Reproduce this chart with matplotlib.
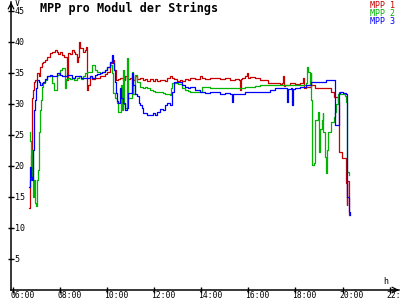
import matplotlib
matplotlib.use("Agg")
import matplotlib.pyplot as plt
import matplotlib.transforms as mtransforms

# MPP 1 (red)
t1 = [6.68, 6.72, 6.77, 6.81, 6.85, 6.89, 6.94, 7.02, 7.10, 7.15, 7.23, 7.28, 7.36, 7.45,
      7.57, 7.66, 7.79, 7.87, 7.91, 8.00, 8.09, 8.17, 8.26, 8.28, 8.34, 8.43, 8.51, 8.60,
      8.64, 8.72, 8.77, 8.81, 8.85, 8.89, 8.98, 9.06, 9.11, 9.15, 9.19, 9.28, 9.36, 9.49,
      9.57, 9.70, 9.79, 9.91, 10.00, 10.13, 10.21, 10.30, 10.38, 10.47, 10.55, 10.68,
      10.77, 10.85, 10.98, 11.11, 11.19, 11.28, 11.40, 11.53, 11.62, 11.70, 11.83, 11.96,
      12.04, 12.13, 12.26, 12.38, 12.47, 12.55, 12.68, 12.77, 12.85, 12.98, 13.11, 13.19,
      13.32, 13.45, 13.53, 13.74, 13.96, 14.04, 14.17, 14.38, 14.60, 14.81, 15.02, 15.23,
      15.45, 15.60, 15.66, 15.70, 15.74, 15.87, 15.96, 16.00, 16.09, 16.30, 16.51, 16.72,
      16.85, 16.94, 17.15, 17.36, 17.45, 17.49, 17.52, 17.57, 17.79, 18.00, 18.21, 18.34,
      18.38, 18.43, 18.64, 18.85, 19.06, 19.28, 19.49, 19.62, 19.79, 19.83, 19.96, 20.09,
      20.13, 20.17, 20.21, 20.26]
v1 = [13.2, 17.7, 21.8, 31.0, 32.3, 33.5, 33.9, 35.0, 34.4, 36.0, 36.6, 36.8, 37.1, 37.6,
      38.2, 38.4, 38.7, 38.4, 38.0, 38.4, 37.9, 37.6, 37.6, 33.9, 38.2, 38.0, 38.7, 38.4,
      38.0, 36.8, 37.6, 40.0, 39.0, 39.0, 38.4, 38.7, 39.2, 32.3, 33.0, 34.4, 34.0, 34.2,
      34.2, 34.4, 34.4, 34.8, 35.2, 36.5, 37.0, 35.5, 33.9, 34.0, 34.2, 33.8,
      34.4, 34.0, 34.2, 33.8, 34.4, 34.0, 34.2, 33.8, 34.0, 33.7, 34.0, 33.7,
      34.0, 33.6, 33.9, 33.9, 33.6, 34.1, 34.4, 34.2, 34.0, 33.7, 33.9, 33.7,
      34.0, 33.8, 34.2, 34.0, 34.4, 34.2, 34.0, 34.2, 34.2, 34.0, 34.2, 33.9,
      34.0, 33.8, 32.3, 34.0, 34.2, 34.4, 35.0, 34.2, 34.3, 34.2, 33.9, 33.9,
      33.4, 33.4, 33.4, 33.2, 33.3, 34.4, 32.8, 33.0, 33.4, 33.2, 33.4, 34.2,
      32.6, 32.7, 33.0, 32.6, 32.6, 32.6, 31.9, 31.1, 30.3, 22.3, 21.3, 21.3,
      17.3, 13.7, 17.5, 12.1]

# MPP 2 (green)
t2 = [6.72, 6.74, 6.77, 6.81, 6.85, 6.89, 6.94, 6.98, 7.02, 7.06, 7.10, 7.15, 7.19, 7.23,
      7.28, 7.36, 7.45, 7.57, 7.66, 7.75, 7.87, 7.95, 8.00, 8.09, 8.17, 8.21, 8.26, 8.34,
      8.43, 8.51, 8.60, 8.72, 8.81, 8.89, 8.98, 9.06, 9.15, 9.28, 9.36, 9.49, 9.57, 9.70,
      9.79, 9.91, 10.00, 10.13, 10.21, 10.26, 10.34, 10.43, 10.47, 10.55, 10.60, 10.64,
      10.68, 10.72, 10.77, 10.85, 10.90, 10.98, 11.06, 11.11, 11.19, 11.28, 11.40, 11.53,
      11.62, 11.70, 11.83, 11.96, 12.04, 12.13, 12.26, 12.38, 12.47, 12.55, 12.68, 12.72,
      12.77, 12.89, 13.02, 13.19, 13.32, 13.45, 13.53, 13.74, 13.96, 14.04, 14.17, 14.38,
      14.60, 14.81, 15.02, 15.23, 15.45, 15.66, 15.87, 16.09, 16.30, 16.51, 16.72, 16.94,
      17.15, 17.36, 17.57, 17.79, 18.00, 18.21, 18.43, 18.51, 18.55, 18.60, 18.64, 18.68,
      18.72, 18.77, 18.81, 18.85, 18.94, 18.98, 19.02, 19.06, 19.11, 19.15, 19.19, 19.24,
      19.28, 19.32, 19.36, 19.40, 19.49, 19.53, 19.62, 19.70, 19.74, 19.79, 19.83, 19.91,
      20.00, 20.09, 20.13, 20.17, 20.21, 20.26]
v2 = [25.5, 24.0, 18.2, 22.6, 15.0, 17.7, 14.0, 13.5, 17.7, 19.4, 25.5, 29.0, 30.6, 32.7,
      33.4, 33.9, 34.4, 34.4, 33.4, 32.3, 34.7, 35.0, 35.5, 35.8, 35.8, 32.6, 34.0, 34.2,
      34.0, 34.2, 33.9, 34.2, 34.4, 34.0, 34.5, 35.0, 35.2, 35.2, 36.3, 35.5, 35.2, 35.0,
      35.2, 35.5, 36.0, 36.3, 35.0, 31.8, 31.0, 30.2, 28.7, 28.7, 33.0, 29.0,
      35.5, 30.0, 29.4, 37.4, 31.0, 31.0, 35.2, 31.5, 34.7, 33.5, 32.7, 32.6,
      32.7, 32.6, 32.2, 32.0, 31.9, 31.9, 31.9, 31.8, 31.6, 31.6, 31.4, 32.6,
      33.4, 33.4, 33.2, 32.6, 32.3, 32.0, 31.9, 31.9, 31.9, 32.7, 32.7, 32.6,
      32.6, 32.6, 32.6, 32.6, 32.6, 32.6, 32.7, 32.7, 32.9, 33.1, 33.1, 33.1,
      33.1, 33.1, 33.1, 33.1, 33.1, 33.1, 33.3, 36.0, 35.2, 33.0, 35.0, 30.6,
      20.2, 20.5, 25.0, 27.4, 28.7, 25.0, 22.3, 26.0, 27.4, 28.5, 25.5, 21.5,
      18.9, 21.0, 22.6, 25.5, 26.9, 27.0, 27.9, 28.7, 30.0, 31.5, 31.9, 31.5,
      31.6, 31.2, 30.3, 25.0, 19.0, 18.5]

# MPP 3 (blue)
t3 = [6.68, 6.72, 6.77, 6.81, 6.85, 6.89, 6.94, 6.98, 7.02, 7.10, 7.15, 7.23, 7.28, 7.36,
      7.45, 7.57, 7.66, 7.79, 7.87, 8.00, 8.09, 8.21, 8.30, 8.43, 8.51, 8.64, 8.77, 8.89,
      9.06, 9.19, 9.28, 9.36, 9.49, 9.57, 9.70, 9.79, 9.91, 10.00, 10.13, 10.21, 10.26,
      10.30, 10.34, 10.38, 10.43, 10.47, 10.55, 10.60, 10.68, 10.77, 10.85, 10.90, 10.98,
      11.06, 11.11, 11.19, 11.28, 11.36, 11.40, 11.49, 11.53, 11.62, 11.70, 11.83, 11.96,
      12.04, 12.13, 12.26, 12.38, 12.47, 12.55, 12.68, 12.77, 12.85, 12.98, 13.11, 13.19,
      13.32, 13.45, 13.53, 13.74, 13.96, 14.17, 14.38, 14.60, 14.81, 15.02, 15.23, 15.32,
      15.36, 15.45, 15.66, 15.87, 16.09, 16.30, 16.51, 16.72, 16.94, 17.15, 17.36, 17.62,
      17.66, 17.70, 17.83, 17.87, 17.91, 18.00, 18.21, 18.43, 18.64, 18.85, 19.06, 19.28,
      19.49, 19.62, 19.66, 19.70, 19.79, 19.83, 19.91, 20.04, 20.13, 20.17, 20.21, 20.26,
      20.30]
v3 = [16.6, 19.8, 18.2, 17.7, 22.6, 29.0, 30.6, 32.5, 33.9, 33.5, 33.1, 33.3, 33.5, 34.0,
      34.4, 34.7, 34.4, 34.4, 35.0, 34.7, 34.4, 34.4, 34.7, 34.7, 34.2, 34.4, 34.4, 34.2,
      34.2, 34.2, 34.4, 34.2, 34.7, 34.8, 35.0, 35.2, 35.5, 36.0, 36.8, 37.9, 36.5,
      35.5, 33.5, 31.8, 30.5, 30.2, 32.6, 31.0, 30.2, 29.0, 29.4, 31.8, 31.8,
      35.0, 33.0, 31.5, 31.3, 30.2, 29.8, 29.4, 28.5, 28.5, 28.2, 28.2, 28.5,
      28.2, 28.7, 29.2, 29.0, 29.8, 30.2, 29.8, 31.9, 33.5, 33.5, 33.5, 33.0,
      32.7, 32.6, 32.7, 32.3, 31.9, 31.8, 31.9, 31.9, 31.6, 31.8, 31.6, 30.3,
      31.6, 31.5, 31.6, 31.9, 31.9, 31.9, 31.9, 31.9, 32.3, 32.6, 32.6, 32.6,
      30.3, 32.4, 32.6, 29.8, 32.4, 32.6, 32.7, 33.1, 33.5, 33.5, 33.5, 33.9,
      33.9, 33.9, 28.2, 26.6, 26.6, 31.8, 31.9, 31.8, 31.5, 22.0, 15.0, 12.5,
      12.1]

x_ticks = [6, 8, 10, 12, 14, 16, 18, 20, 22]
x_labels = ["06:00", "08:00", "10:00", "12:00", "14:00", "16:00", "18:00", "20:00", "22:00"]
y_ticks = [5, 10, 15, 20, 25, 30, 35, 40, 45]

mono = "DejaVu Sans Mono"
fig = plt.figure(figsize=(4, 3), dpi=100)
ax = fig.add_axes([11 / 400, 10 / 300, 388 / 400, 288 / 300])

ax.plot(t1, v1, color="#c80000", lw=0.9, drawstyle="steps-post")
ax.plot(t2, v2, color="#00b400", lw=0.9, drawstyle="steps-post")
ax.plot(t3, v3, color="#0000ff", lw=0.9, drawstyle="steps-post")

ax.set_xlim(5.915, 22.4)
ax.set_ylim(0, 46.4)
for s in ["top", "right"]:
    ax.spines[s].set_visible(False)
for s in ["left", "bottom"]:
    ax.spines[s].set_linewidth(1.1)

ax.set_xticks(x_ticks)
ax.set_xticklabels(x_labels, fontfamily=mono, fontsize=5.8, ha="left")
ax.set_yticks(y_ticks)
ax.set_yticklabels([str(v) for v in y_ticks], fontfamily=mono, fontsize=6, ha="left")
ax.tick_params(axis="both", direction="inout", length=4.5, width=1)
ax.tick_params(axis="x", pad=-1.2)
ax.tick_params(axis="y", pad=-5)
off = mtransforms.ScaledTranslation(-3 / 100, 0, fig.dpi_scale_trans)
for lab in ax.get_xticklabels():
    lab.set_transform(lab.get_transform() + off)

# axis arrows
ax.annotate("", xy=(0, 1.0), xytext=(0, 0.97), xycoords="axes fraction",
            arrowprops=dict(arrowstyle="->", lw=0.9, color="black", shrinkA=0, shrinkB=0),
            annotation_clip=False)
ax.annotate("", xy=(1.0, 0), xytext=(0.98, 0), xycoords="axes fraction",
            arrowprops=dict(arrowstyle="->", lw=0.9, color="black", shrinkA=0, shrinkB=0),
            annotation_clip=False)

fig.text(15 / 400, 1 - 4 / 300, "V", fontfamily=mono, fontsize=6, va="center", ha="left")
fig.text(386 / 400, 1 - 281 / 300, "h", fontfamily=mono, fontsize=6, va="center", ha="center")

fig.text(40 / 400, 1 - 8 / 300, "MPP pro Modul der Strings", fontfamily=mono,
         fontsize=8.5, fontweight="bold", va="center", ha="left")

fig.text(395 / 400, 1 - 5 / 300, "MPP 1", color="#c80000", fontfamily=mono, fontsize=6, va="center", ha="right")
fig.text(395 / 400, 1 - 13 / 300, "MPP 2", color="#00b400", fontfamily=mono, fontsize=6, va="center", ha="right")
fig.text(395 / 400, 1 - 21 / 300, "MPP 3", color="#0000ff", fontfamily=mono, fontsize=6, va="center", ha="right")

fig.savefig("out.png", dpi=100)
